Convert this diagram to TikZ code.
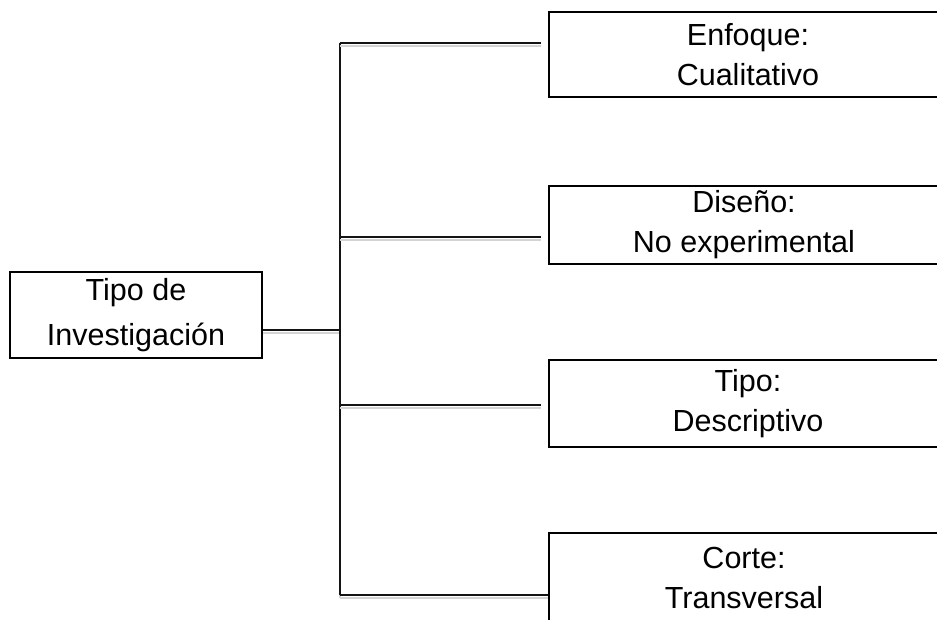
\documentclass[tikz,border=0pt]{standalone}
\usepackage{fontspec}
\setmainfont{Liberation Sans}
\usetikzlibrary{positioning}
\definecolor{mydark}{RGB}{20,20,20}
\definecolor{myshade}{RGB}{212,212,212}
\tikzset{
  box/.style={rectangle, draw=black, line width=2.8pt, align=center,
    inner sep=0pt, font=\fontsize{30.5}{40}\selectfont},
  link/.style={line width=1.3pt, color=mydark,
    preaction={draw=myshade, line width=1.6pt, transform canvas={yshift=-3pt}}}
}

\begin{document}
\begin{tikzpicture}[x=1pt, y=-1pt]
  \useasboundingbox (0,0) rectangle (937,619);
  \clip (0,0) rectangle (937,619);

  % left box
  \node[box, minimum width=252, minimum height=86,
    font=\fontsize{30.5}{45}\selectfont] (tipo) at (136,315) {Tipo de\\Investigación};

  % right boxes (cut by the right edge)
  \node[box, minimum width=398, minimum height=85] (enfoque) at (748,54.5) {Enfoque:\\Cualitativo};
  \node[box, minimum width=390, minimum height=78] (diseno) at (744,225) {Diseño:\\No experimental};
  \node[box, minimum width=398, minimum height=87] (tipoinv) at (748,403.5) {Tipo:\\Descriptivo};
  \node[box, minimum width=390, minimum height=90] (corte) at (744,578) {Corte:\\Transversal};

  % trunk and branches
  \coordinate (jmid) at (340,330);
  \coordinate (j1) at (340,43);
  \coordinate (j2) at (340,237);
  \coordinate (j3) at (340,405);
  \coordinate (j4) at (340,595);
  \coordinate (e1) at (541,43);
  \coordinate (e2) at (541,237);
  \coordinate (e3) at (541,405);

  \draw[link] (tipo.east |- jmid) -- (jmid);
  \draw[link] (j1) -- (j4);
  \draw[link] (j1) -- (e1);
  \draw[link] (j2) -- (e2);
  \draw[link] (j3) -- (e3);
  \draw[link] (j4) -- (j4 -| corte.west);
\end{tikzpicture}
\end{document}
